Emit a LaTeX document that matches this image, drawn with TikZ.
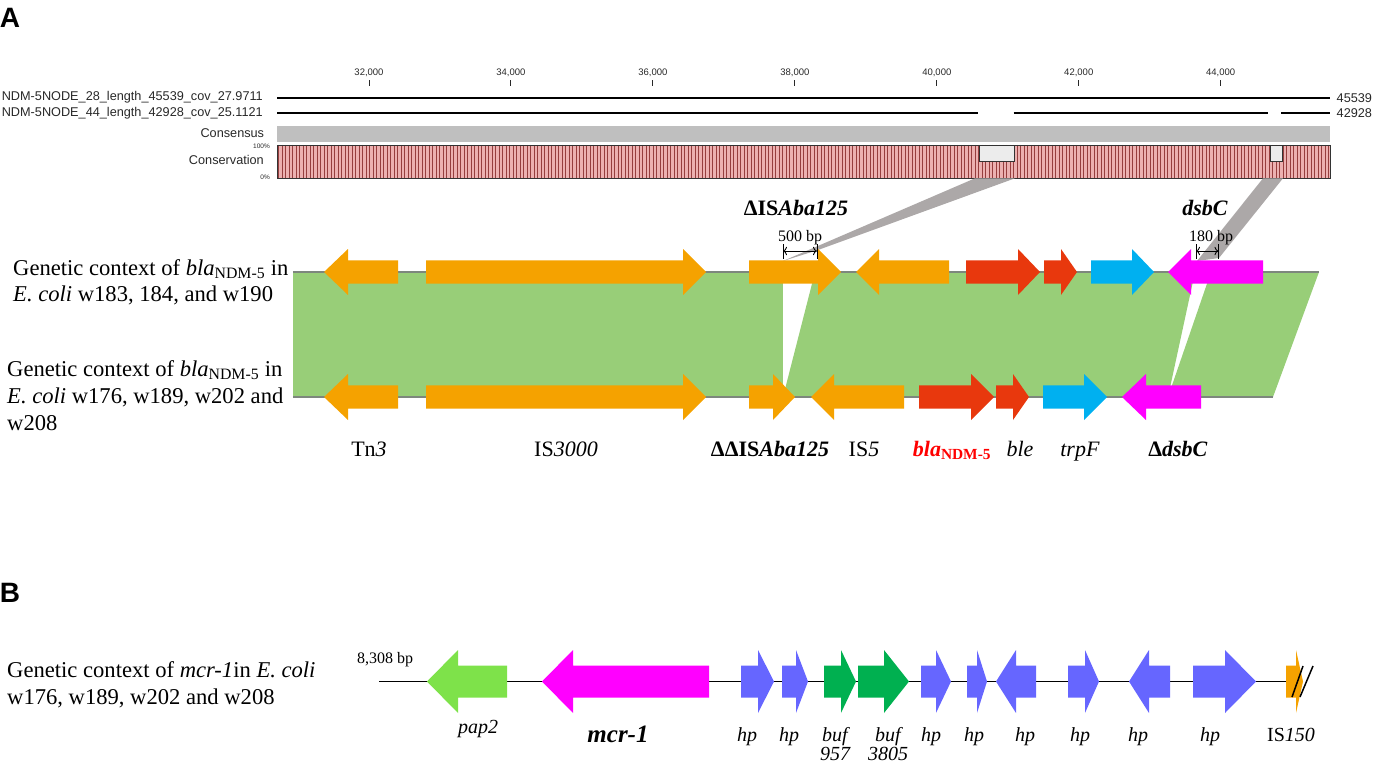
\documentclass[tikz,border=0pt]{standalone}
\usepackage{fontspec}
\setmainfont{Liberation Serif}
\newfontfamily\arialfont{Liberation Sans}
\usetikzlibrary{arrows.meta}

\definecolor{isorange}{RGB}{245,162,0}
\definecolor{bandgreen}{RGB}{152,206,120}
\definecolor{ndmred}{RGB}{232,56,13}
\definecolor{trpblue}{RGB}{0,176,240}
\definecolor{dsbpink}{RGB}{255,0,255}
\definecolor{papgreen}{RGB}{126,226,74}
\definecolor{bufgreen}{RGB}{0,176,80}
\definecolor{hpblue}{RGB}{102,102,255}
\definecolor{linkgray}{RGB}{172,168,168}
\definecolor{conspink}{RGB}{236,176,176}
\definecolor{consred}{RGB}{150,62,62}
\definecolor{textdark}{RGB}{40,40,40}
\definecolor{backbonegray}{RGB}{125,135,125}

\newcommand{\bodyh}{11.7}
\newcommand{\headh}{23}
% #1 colour, #2 tail, #3 head base, #4 tip, #5 y
\newcommand{\gene}[5]{%
  \fill[#1] (#2,#5-\bodyh) -- (#3,#5-\bodyh) -- (#3,#5-\headh) -- (#4,#5)
    -- (#3,#5+\headh) -- (#3,#5+\bodyh) -- (#2,#5+\bodyh) -- cycle;}

\begin{document}
\begin{tikzpicture}[x=1pt,y=-1pt,
    lab/.style={font=\fontsize{22.6}{27}\selectfont, anchor=base west, inner sep=0pt},
    genelab/.style={font=\fontsize{22}{27}\selectfont, anchor=base, inner sep=0pt},
    hplab/.style={font=\fontsize{20}{22}\selectfont\itshape, anchor=base, inner sep=0pt},
    bplab/.style={font=\fontsize{16}{18}\selectfont, anchor=base, inner sep=0pt},
    sanslab/.style={font=\arialfont\fontsize{12.7}{14}\selectfont, text=textdark, anchor=east, inner sep=0pt},
    ticklab/.style={font=\arialfont\fontsize{9.5}{10}\selectfont, text=textdark, inner sep=0pt},
    panel/.style={font=\arialfont\bfseries\fontsize{28}{30}\selectfont, inner sep=0pt},
    track/.style={line width=2pt},
    backbone/.style={draw=backbonegray, line width=1.3pt},
    link/.style={fill=linkgray},
    dim/.style={{To[length=4pt]}-{To[length=4pt]}, line width=0.9pt},
  ]
\useasboundingbox (0,0) rectangle (1377,765);

%% panel A
\node[panel] (pa) at (10,18) {A};

% ruler
\foreach \k [count=\i from 0] in {32,34,...,44} {
  \draw[textdark, line width=1pt] (369+141.95*\i,80.5) -- (369+141.95*\i,86.5);
  \node[ticklab] (t\k) at (369+141.95*\i,72.3) {\k,000};
}

% contigs
\draw[track] (277,97.7) -- (1330,97.7);
\draw[track] (277,113.3) -- (977.5,113.3) (1013.7,113.3) -- (1267.7,113.3) (1281,113.3) -- (1330,113.3);
\node[sanslab] (n28) at (263,97.7) {NDM-5NODE\_28\_length\_45539\_cov\_27.9711};
\node[sanslab] (n44) at (263,113.3) {NDM-5NODE\_44\_length\_42928\_cov\_25.1121};
\node[sanslab, anchor=west] (l28) at (1336.5,97.7) {45539};
\node[sanslab, anchor=west] (l44) at (1336.5,113.3) {42928};

% consensus and conservation
\fill[gray!50] (277,125.7) rectangle (1330,141.7);
\node[sanslab] (cons) at (264.3,133.3) {Consensus};
\fill[conspink] (277,145) rectangle (1330,178.3);
\foreach \sx in {278.5,282,...,1329}
  \draw[consred, line width=1pt] (\sx,145) -- (\sx,178.3);
\fill[gray!15] (979,145) rectangle (1014,161.7);
\fill[gray!15] (1270,145) rectangle (1282,161.7);
\draw[black!80, line width=0.8pt] (979,145) -- (979,161.7) -- (1014,161.7) -- (1014,145)
  (1270,145) -- (1270,161.7) -- (1282,161.7) -- (1282,145);
\draw[black!80, line width=0.8pt] (277,145) rectangle (1330,178.3);
\node[sanslab] (consv) at (264,160) {Conservation};
\node[sanslab, font=\arialfont\fontsize{6.5}{7}\selectfont] (p100) at (270,146.3) {100\%};
\node[sanslab, font=\arialfont\fontsize{6.5}{7}\selectfont] (p0) at (270,177.3) {0\%};

% links to the gaps
\fill[link] (975,178.3) -- (1015,178.3) -- (818,250) -- (783,261) -- cycle;
\fill[link] (1263,178.3) -- (1283,178.3) -- (1219,258) -- (1197,261) -- cycle;

% shared blocks
\fill[bandgreen] (293,272) -- (783,272) -- (783,397) -- (293,397) -- cycle;
\fill[bandgreen] (815,272) -- (1195,272) -- (1168,397) -- (783,397) -- cycle;
\fill[bandgreen] (1211,272) -- (1319,272) -- (1273,397) -- (1168,397) -- cycle;
\draw[backbone] (293,272) -- (1319,272);
\draw[backbone] (293,397) -- (1273,397);

% upper row
\gene{isorange}{398}{348}{324}{272}
\gene{isorange}{426}{683}{706}{272}
\gene{isorange}{749}{818}{841}{272}
\gene{isorange}{949}{879}{856}{272}
\gene{ndmred}{966}{1018}{1040}{272}
\gene{ndmred}{1044}{1061}{1077}{272}
\gene{trpblue}{1091}{1132}{1154}{272}
\gene{dsbpink}{1263}{1191}{1168}{272}

% lower row
\gene{isorange}{398}{348}{324}{397}
\gene{isorange}{426}{683}{706}{397}
\gene{isorange}{749}{773}{795}{397}
\gene{isorange}{904}{834}{811}{397}
\gene{ndmred}{919}{971}{994}{397}
\gene{ndmred}{996}{1013}{1029}{397}
\gene{trpblue}{1043}{1084}{1107}{397}
\gene{dsbpink}{1201}{1146}{1122}{397}

% deletion sizes
\coordinate (d5l) at (783,251);
\coordinate (d5r) at (817,251);
\coordinate (d1l) at (1196,251);
\coordinate (d1r) at (1218.5,251);
\draw[line width=1pt] ([yshift=7pt]d5l) -- ([yshift=-8pt]d5l) ([yshift=7pt]d5r) -- ([yshift=-8pt]d5r)
  ([yshift=7pt]d1l) -- ([yshift=-8pt]d1l) ([yshift=7pt]d1r) -- ([yshift=-8pt]d1r);
\draw[dim] (d5l) -- (d5r);
\draw[dim] (d1l) -- (d1r);
\node[bplab] (bp500) at (800,241) {500 bp};
\node[bplab] (bp180) at (1211,241) {180 bp};

\node[genelab, font=\bfseries\fontsize{22}{27}\selectfont] (isaba) at (796,215) {ΔIS\textit{Aba125}};
\node[genelab, font=\bfseries\itshape\fontsize{22}{27}\selectfont] (dsbc) at (1205,215) {dsbC};

% gene names
\node[genelab] (tn3) at (369,456) {Tn\textit{3}};
\node[genelab] (is3000) at (566,456) {IS\textit{3000}};
\node[genelab, font=\bfseries\fontsize{22}{27}\selectfont] (ddisaba) at (770,456) {ΔΔIS\textit{Aba125}};
\node[genelab] (is5) at (864,456) {IS\textit{5}};
\node[genelab, text=red, font=\bfseries\fontsize{22}{27}\selectfont] (ndm) at (952,456) {\textit{bla}\textsubscript{NDM-5}};
\node[genelab] (ble) at (1020,456) {\textit{ble}};
\node[genelab] (trpf) at (1080,456) {\textit{trpF}};
\node[genelab, font=\bfseries\fontsize{22}{27}\selectfont] (ddsbc) at (1178,456) {Δ\textit{dsbC}};

% strain labels
\node[lab] (ctxa1) at (13,275) {Genetic context of \textit{bla}\textsubscript{NDM-5} in};
\node[lab] (ctxa2) at (13,301) {\textit{E. coli} w183, 184, and w190};
\node[lab] (ctxb1) at (7,376) {Genetic context of \textit{bla}\textsubscript{NDM-5} in};
\node[lab] (ctxb2) at (7,403) {\textit{E. coli} w176, w189, w202 and};
\node[lab] (ctxb3) at (7,430) {w208};

%% panel B
\begin{scope}
\renewcommand{\bodyh}{16}
\renewcommand{\headh}{31.5}
\node[panel] (pb) at (10,593) {B};
\node[lab] (ctxc1) at (7,677) {Genetic context of \textit{mcr-1}in \textit{E. coli}};
\node[lab] (ctxc2) at (7,704) {w176, w189, w202 and w208};
\node[bplab] (len) at (385,663) {8,308 bp};

\coordinate (bstart) at (379,681.5);
\coordinate (bend) at (1286,681.5);
\draw[line width=1.2pt] (bstart) -- (bend);

\gene{papgreen}{507}{458}{427}{681.5}
\gene{dsbpink}{709}{573}{542}{681.5}
\gene{hpblue}{741}{758}{774}{681.5}
\gene{hpblue}{782}{796}{808}{681.5}
\gene{bufgreen}{824}{841}{856}{681.5}
\gene{bufgreen}{858}{884}{909}{681.5}
\gene{hpblue}{921}{936}{951}{681.5}
\gene{hpblue}{967}{977}{987}{681.5}
\gene{hpblue}{1036}{1016}{996}{681.5}
\gene{hpblue}{1068}{1085}{1099}{681.5}
\gene{hpblue}{1170}{1149}{1129}{681.5}
\gene{hpblue}{1193}{1225}{1256}{681.5}
\gene{isorange}{1286}{1296}{1303}{681.5}
\draw[line width=1.5pt] (1292,697) -- (1303,666) (1300,697) -- (1313,666);

\node[hplab] (pap2) at (478,733) {pap2};
\node[hplab, font=\bfseries\itshape\fontsize{25}{27}\selectfont] (mcr1) at (618,742) {mcr-1};
\node[hplab] (hp1) at (747,741) {hp};
\node[hplab] (hp2) at (789,741) {hp};
\node[hplab] (buf1) at (835,741) {buf};
\node[hplab] (buf1n) at (835,760) {957};
\node[hplab] (buf2) at (888,741) {buf};
\node[hplab] (buf2n) at (888,760) {3805};
\node[hplab] (hp3) at (931,741) {hp};
\node[hplab] (hp4) at (974,741) {hp};
\node[hplab] (hp5) at (1025,741) {hp};
\node[hplab] (hp6) at (1080,741) {hp};
\node[hplab] (hp7) at (1138,741) {hp};
\node[hplab] (hp8) at (1210,741) {hp};
\node[hplab, font=\fontsize{20}{22}\selectfont] (is150) at (1291,741) {IS\textit{150}};
\end{scope}
\end{tikzpicture}
\end{document}
